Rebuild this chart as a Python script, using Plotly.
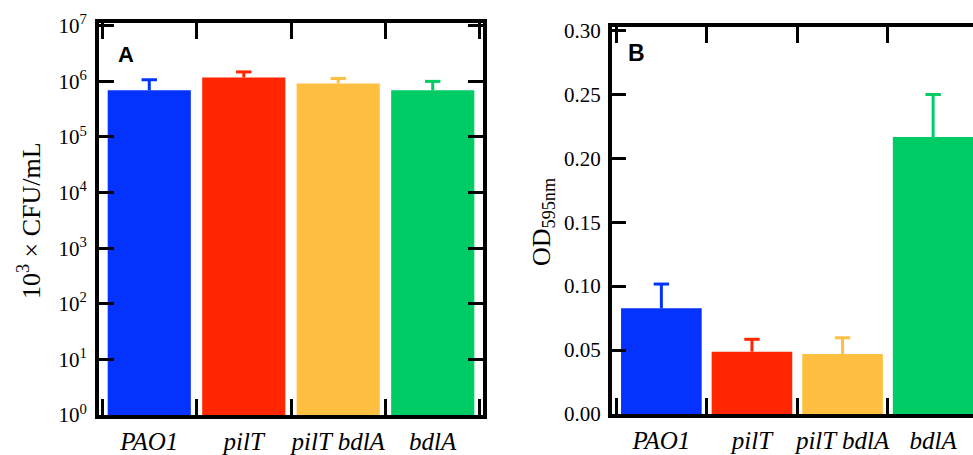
import plotly.graph_objects as go

categories = ["PAO1", "pilT", "pilT bdlA", "bdlA"]
colors = ["#0433FF", "#FF2600", "#FFBF40", "#00CC66"]

# Panel A: 10^3 x CFU/mL (log scale)
cfu = [6.9e5, 1.18e6, 9.2e5, 6.9e5]
cfu_err = [3.8e5, 3.0e5, 2.1e5, 3.1e5]

# Panel B: OD595nm
od = [0.0826, 0.0487, 0.0469, 0.2166]
od_err = [0.019, 0.0097, 0.0127, 0.0332]

log_tickvals = [1, 10, 100, 1e3, 1e4, 1e5, 1e6, 1e7]
log_ticktext = ["10<sup>%d</sup>" % i for i in range(8)]
od_tickvals = [0, 0.05, 0.10, 0.15, 0.20, 0.25, 0.30]

W, H = 973, 455
fig = go.Figure()

panels = [("x", "y", cfu, cfu_err, 0.88), ("x2", "y2", od, od_err, 0.89)]
for xa, ya, vals, errs, bw in panels:
    for i, c in enumerate(categories):
        fig.add_trace(go.Bar(
            x=[c], y=[vals[i]], xaxis=xa, yaxis=ya, width=bw,
            marker=dict(color=colors[i], line=dict(width=0)),
            error_y=dict(type="data", array=[errs[i]], arrayminus=[0], symmetric=False,
                         color=colors[i], thickness=3, width=0),
            showlegend=False, hoverinfo="skip"))
    # caps at the top of the error bars
    fig.add_trace(go.Scatter(
        x=categories, y=[v + e for v, e in zip(vals, errs)], xaxis=xa, yaxis=ya,
        mode="markers",
        marker=dict(symbol="line-ew", size=11, line=dict(width=3, color=colors)),
        showlegend=False, hoverinfo="skip"))

serif = "Liberation Serif"
axis_common = dict(showline=True, linecolor="black", linewidth=4, ticks="inside",
                   tickcolor="black", tickwidth=3, showgrid=False, zeroline=False,
                   automargin=False, tickangle=0)

fig.update_layout(
    width=W, height=H,
    margin=dict(l=0, r=0, t=0, b=0, autoexpand=False),
    paper_bgcolor="white", plot_bgcolor="white",
    barmode="overlay",
    xaxis=dict(**axis_common, domain=[99 / W, 483 / W], anchor="y",
               type="category", categoryorder="array", categoryarray=categories,
               range=[-0.532, 3.532], tickson="boundaries", ticklen=16, mirror="ticks",
               tickfont=dict(family=serif, size=25, color="black", style="italic"),
               ticklabelstandoff=1),
    yaxis=dict(**axis_common, domain=[1 - 415 / H, 1 - 23 / H], anchor="x",
               type="log", range=[0, 7.05], tickvals=log_tickvals, ticktext=log_ticktext,
               ticklen=15, mirror="ticks", ticklabelstandoff=4,
               tickfont=dict(family=serif, size=21, color="black")),
    xaxis2=dict(**axis_common, domain=[612 / W, 1.0], anchor="y2",
                type="category", categoryorder="array", categoryarray=categories,
                range=[-0.545, 3.44], tickson="boundaries", ticklen=16, mirror="ticks",
                tickfont=dict(family=serif, size=25, color="black", style="italic"),
                ticklabelstandoff=1),
    yaxis2=dict(**axis_common, domain=[1 - 414 / H, 1 - 27 / H], anchor="x2",
                range=[0, 0.3026], tickvals=od_tickvals, tickformat=".2f",
                ticklen=14, mirror=False, ticklabelstandoff=3,
                tickfont=dict(family=serif, size=21, color="black")),
    annotations=[
        dict(text="10<sup>3</sup> × CFU/mL", x=29 / W, y=1 - 221 / H, xref="paper", yref="paper",
             textangle=-90, showarrow=False, xanchor="center", yanchor="middle",
             font=dict(family=serif, size=26, color="black")),
        dict(text="OD<sub>595nm</sub>", x=543 / W, y=1 - 222 / H, xref="paper", yref="paper",
             textangle=-90, showarrow=False, xanchor="center", yanchor="middle",
             font=dict(family=serif, size=26, color="black")),
        dict(text="<b>A</b>", x=125.5 / W, y=1 - 54.5 / H, xref="paper", yref="paper",
             showarrow=False, xanchor="center", yanchor="middle",
             font=dict(family="Liberation Sans", size=22, color="black")),
        dict(text="<b>B</b>", x=636.5 / W, y=1 - 52.5 / H, xref="paper", yref="paper",
             showarrow=False, xanchor="center", yanchor="middle",
             font=dict(family="Liberation Sans", size=23, color="black")),
    ],
)

fig.write_html("out.html", config={"displayModeBar": False},
               post_script="document.body.style.margin='0';document.body.style.overflow='hidden';")
